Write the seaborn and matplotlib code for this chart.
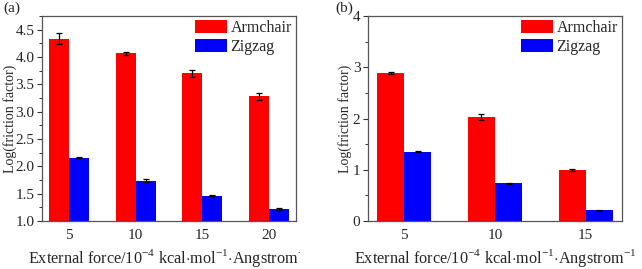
import numpy as np
import pandas as pd
import matplotlib
matplotlib.use("Agg")
import matplotlib.pyplot as plt
import seaborn as sns
from matplotlib.transforms import Bbox
from matplotlib.ticker import MultipleLocator

# ---- data ----
forces_a = ["5", "10", "15", "20"]
armchair_a = [4.33, 4.07, 3.70, 3.28]
armchair_a_err = [0.10, 0.03, 0.07, 0.07]
zigzag_a = [2.16, 1.74, 1.46, 1.22]
zigzag_a_err = [0.01, 0.03, 0.01, 0.01]

forces_b = ["5", "10", "15"]
armchair_b = [2.88, 2.03, 0.99]
armchair_b_err = [0.02, 0.05, 0.02]
zigzag_b = [1.35, 0.74, 0.21]
zigzag_b_err = [0.01, 0.01, 0.01]

series = ["Armchair", "Zigzag"]
colors = {"Armchair": "#ff0000", "Zigzag": "#0000ff"}

sns.set_theme(style="ticks")
plt.rcParams["font.family"] = ["Liberation Serif", "DejaVu Serif"]
plt.rcParams["mathtext.fontset"] = "custom"
plt.rcParams["mathtext.rm"] = "Liberation Serif"

fig = plt.figure(figsize=(6.42, 2.69), dpi=100)
W, H = 642, 269
ax_a = fig.add_axes([42 / W, 1 - 221 / H, (296 - 42) / W, (221 - 16) / H])
ax_b = fig.add_axes([368 / W, 1 - 221 / H, (622 - 368) / W, (221 - 16) / H])


def draw(ax, cats, arm, arm_e, zig, zig_e, ylim, major, minor, ylab_x):
    df = pd.DataFrame({
        "force": cats * 2,
        "value": arm + zig,
        "series": ["Armchair"] * len(cats) + ["Zigzag"] * len(cats),
    })
    sns.barplot(data=df, x="force", y="value", hue="series", order=cats,
                hue_order=series, palette=colors, width=0.6, dodge=True,
                saturation=1, errorbar=None, ax=ax, linewidth=0)
    errs = arm_e + zig_e
    vals = arm + zig
    patches = [p for p in ax.patches if p.get_height() > 0][:len(vals)]
    for p, v, e in zip(patches, vals, errs):
        xc = p.get_x() + p.get_width() / 2
        ax.errorbar(xc, v, yerr=e, color="black", capsize=2.5, lw=0.9,
                    capthick=0.9, fmt="none")
    ax.set_ylim(*ylim)
    ax.set_xlim(-0.4, len(cats) - 0.6)
    ax.yaxis.set_major_locator(MultipleLocator(major))
    ax.yaxis.set_minor_locator(MultipleLocator(minor))
    ax.tick_params(axis="y", which="major", direction="out", length=3.5,
                   width=0.8, labelsize=11, color="#333333", pad=2)
    ax.tick_params(axis="y", which="minor", direction="out", length=2,
                   width=0.7, color="#333333")
    ax.tick_params(axis="x", length=0, labelsize=11, pad=6)
    for s in ax.spines.values():
        s.set_visible(True)
        s.set_color("#555555")
        s.set_linewidth(0.9)
    yl = ax.set_ylabel("Log(friction factor)", fontsize=10)
    yl.set_verticalalignment("center")
    ax.yaxis.set_label_coords(ylab_x, 0.5)
    xl = ax.set_xlabel(r"External force/10$^{-4}$ kcal$\cdot$mol$^{-1}$$\cdot$Angstrom$^{-1}$",
                       fontsize=11.7)
    xl.set_verticalalignment("center")
    ax.xaxis.set_label_coords(0.5, -0.18)
    ax.legend(loc="upper right", frameon=False, fontsize=11.5,
              handlelength=2.0, handleheight=0.9, handletextpad=0.2,
              labelspacing=0.15, borderaxespad=0.1, borderpad=0.15)
    return xl


xl_a = draw(ax_a, forces_a, armchair_a, armchair_a_err, zigzag_a, zigzag_a_err,
            (1.0, 4.75), 0.5, 0.25, -0.126)
xl_b = draw(ax_b, forces_b, armchair_b, armchair_b_err, zigzag_b, zigzag_b_err,
            (0, 4), 1, 0.5, -0.09)

fig.text(3 / W, 1 - 8 / H, "(a)", fontsize=11, ha="left", va="center")
fig.text(335 / W, 1 - 8 / H, "(b)", fontsize=11, ha="left", va="center")

# clip panel (a) x label at the panel boundary as in the reference
xl_a.set_clip_on(True)
xl_a.set_clip_box(Bbox.from_extents(0, 0, 300, H))

fig.savefig("out.png", dpi=100)
